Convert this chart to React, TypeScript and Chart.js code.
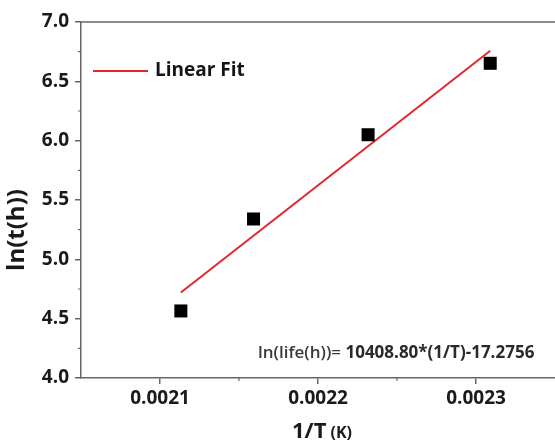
import React, { useEffect, useRef } from "react";
import { Chart, registerables } from "chart.js";

Chart.register(...registerables);

// Data
const invT = [0.0021132, 0.0021592, 0.0022317, 0.0023090];
const lnLife = [4.565, 5.34, 6.05, 6.652];
const fitX = [0.0021132, 0.0023090];
const fitY = [4.72, 6.757];
const xMajorTicks = [0.0021, 0.0022, 0.0023];
const xMinorTicks = [0.00215, 0.00225];
const yMinorTicks = [4.25, 4.75, 5.25, 5.75, 6.25, 6.75];
const legendLabel = "Linear Fit";
const equationLeft = "ln(life(h))= ";
const equationRight = "10408.80*(1/T)-17.2756";
const yTitle = "ln(t(h))";
const xTitleMain = "1/T";
const xTitleUnit = " (K)";

const FONT = "'Open Sans', 'DejaVu Sans', sans-serif";
const AXIS = "#666666";
const RED = "#e3262b";

const overlay = {
  id: "overlay",
  afterDraw(chart: any) {
    const { ctx, chartArea, scales } = chart;
    const xs = scales.x;
    const ys = scales.y;
    ctx.save();
    // top border
    ctx.strokeStyle = AXIS;
    ctx.lineWidth = 1.5;
    ctx.beginPath();
    ctx.moveTo(chartArea.left, chartArea.top);
    ctx.lineTo(chartArea.right, chartArea.top);
    ctx.stroke();
    // minor ticks
    ctx.lineWidth = 1.2;
    ctx.beginPath();
    yMinorTicks.forEach((v) => {
      const y = ys.getPixelForValue(v);
      ctx.moveTo(chartArea.left - 3, y);
      ctx.lineTo(chartArea.left, y);
    });
    xMinorTicks.forEach((v) => {
      const x = xs.getPixelForValue(v);
      ctx.moveTo(x, chartArea.bottom);
      ctx.lineTo(x, chartArea.bottom + 3);
    });
    ctx.stroke();

    // legend
    ctx.strokeStyle = RED;
    ctx.lineWidth = 2;
    ctx.beginPath();
    ctx.moveTo(chartArea.left + 12, chartArea.top + 49);
    ctx.lineTo(chartArea.left + 67, chartArea.top + 49);
    ctx.stroke();
    ctx.fillStyle = "#151515";
    ctx.font = `700 19px ${FONT}`;
    ctx.textBaseline = "middle";
    ctx.textAlign = "left";
    ctx.fillText(legendLabel, chartArea.left + 74, chartArea.top + 49);

    // equation
    ctx.font = `600 17px ${FONT}`;
    ctx.fillStyle = "#3a3a3a";
    const ex = 258;
    const ey = 353;
    ctx.fillText(equationLeft, ex, ey);
    const w1 = ctx.measureText(equationLeft).width;
    ctx.font = `700 17px ${FONT}`;
    ctx.fillStyle = "#2a2a2a";
    ctx.fillText(equationRight, ex + w1, ey);

    // y title
    ctx.save();
    ctx.translate(17, 230);
    ctx.rotate(-Math.PI / 2);
    ctx.textAlign = "center";
    ctx.textBaseline = "middle";
    ctx.font = `700 24px ${FONT}`;
    ctx.fillStyle = "#1a1a1a";
    ctx.fillText(yTitle, 0, 0);
    ctx.restore();

    // x title
    ctx.textBaseline = "alphabetic";
    ctx.textAlign = "left";
    ctx.fillStyle = "#1a1a1a";
    ctx.font = `700 22px ${FONT}`;
    const mw = ctx.measureText(xTitleMain).width;
    ctx.font = `700 16px ${FONT}`;
    const uw = ctx.measureText(xTitleUnit).width;
    const startX = 322 - (mw + uw) / 2;
    ctx.font = `700 22px ${FONT}`;
    ctx.fillText(xTitleMain, startX, 438);
    ctx.font = `700 16px ${FONT}`;
    ctx.fillText(xTitleUnit, startX + mw, 438);
    ctx.restore();
  },
};

export default function App() {
  const ref = useRef<HTMLCanvasElement>(null);
  useEffect(() => {
    document.body.style.margin = "0";
    const canvas = ref.current;
    if (!canvas) return;
    const chart = new Chart(canvas, {
      type: "scatter",
      data: {
        datasets: [
          {
            label: legendLabel,
            data: fitX.map((x, i) => ({ x, y: fitY[i] })),
            showLine: true,
            borderColor: RED,
            borderWidth: 2,
            pointRadius: 0,
            order: 2,
          },
          {
            label: "data",
            data: invT.map((x, i) => ({ x, y: lnLife[i] })),
            showLine: false,
            pointStyle: "rect",
            pointRadius: 9.2,
            backgroundColor: "#000000",
            borderColor: "#000000",
            borderWidth: 0,
            order: 1,
          },
        ],
      },
      options: {
        animation: false,
        responsive: false,
        devicePixelRatio: 1,
        layout: { autoPadding: false, padding: { top: 22, right: 0, left: 0, bottom: 0 } },
        plugins: {
          legend: { display: false },
          tooltip: { enabled: false },
        },
        scales: {
          x: {
            type: "linear",
            min: 0.00205,
            max: 0.00235,
            afterBuildTicks: (scale: any) => {
              scale.ticks = xMajorTicks.map((v) => ({ value: v }));
            },
            afterFit: (scale: any) => {
              scale.height = 65;
            },
            grid: {
              drawOnChartArea: false,
              drawTicks: true,
              tickLength: 6,
              color: AXIS,
              lineWidth: 1.5,
            },
            border: { display: true, color: AXIS, width: 1.5 },
            ticks: {
              padding: 3,
              color: "#1a1a1a",
              font: { family: FONT, size: 19, weight: "bold" },
              maxRotation: 0,
              callback: (v: any) => Number(v).toFixed(4),
            },
          },
          y: {
            type: "linear",
            min: 4,
            max: 7,
            ticks: {
              stepSize: 0.5,
              padding: 6,
              color: "#1a1a1a",
              font: { family: FONT, size: 19, weight: "bold" },
              callback: (v: any) => Number(v).toFixed(1),
            },
            afterFit: (scale: any) => {
              scale.width = 81;
            },
            grid: {
              drawOnChartArea: false,
              drawTicks: true,
              tickLength: 6,
              color: AXIS,
              lineWidth: 1.5,
            },
            border: { display: true, color: AXIS, width: 1.5 },
          },
        },
      },
      plugins: [overlay],
    } as any);
    return () => chart.destroy();
  }, []);
  return (
    <div style={{ width: 555, height: 443, background: "#ffffff" }}>
      <canvas ref={ref} width={555} height={443} />
    </div>
  );
}
